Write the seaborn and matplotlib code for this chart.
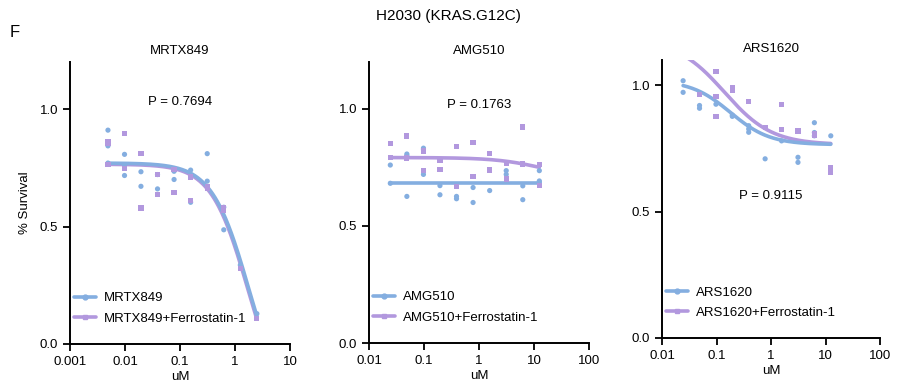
import numpy as np
import pandas as pd
import matplotlib
matplotlib.use("Agg")
import matplotlib.pyplot as plt
from matplotlib.lines import Line2D
import seaborn as sns

sns.set_style("ticks")
plt.rcParams["font.family"] = ["Liberation Sans", "DejaVu Sans"]
plt.rcParams["text.color"] = "black"
plt.rcParams["axes.labelcolor"] = "black"
plt.rcParams["xtick.color"] = "black"
plt.rcParams["ytick.color"] = "black"

BLUE = "#84AEE0"
PURPLE = "#B298DE"

# concentrations (uM), 2-fold dilutions
conc_mrtx = [0.0049, 0.0098, 0.0195, 0.039, 0.078, 0.156, 0.3125, 0.625, 1.25, 2.5]
conc_amg = [0.0244, 0.0488, 0.0977, 0.195, 0.39, 0.78, 1.5625, 3.125, 6.25, 12.5]
conc_ars = [0.0244, 0.0488, 0.0977, 0.195, 0.39, 0.78, 1.5625, 3.125, 6.25, 12.5]

# replicate survival values per concentration (visible points)
mrtx_drug = [[0.91, 0.843, 0.77], [0.807, 0.717, 0.76], [0.733, 0.671], [0.721, 0.66],
             [0.70, 0.735], [0.74, 0.603], [0.81, 0.693], [0.582, 0.486], [0.336], [0.129]]
mrtx_ferro = [[0.862, 0.855, 0.764], [0.896, 0.747], [0.81, 0.579], [0.636, 0.72],
              [0.743, 0.646], [0.711, 0.61], [0.671, 0.664], [0.579, 0.57], [0.321], [0.107]]
amg_drug = [[0.76, 0.682], [0.807, 0.80, 0.626], [0.832, 0.826, 0.72], [0.672, 0.633],
            [0.626, 0.616], [0.664, 0.60], [0.651], [0.736, 0.72], [0.671, 0.612],
            [0.736, 0.692, 0.686]]
amg_ferro = [[0.852, 0.792], [0.884, 0.79], [0.82, 0.736], [0.778, 0.742], [0.84, 0.668],
             [0.855, 0.711], [0.809, 0.739], [0.767, 0.70], [0.922, 0.764], [0.763, 0.672]]
ars_drug = [[1.018, 0.972], [0.92, 0.909], [0.925], [0.877, 0.882], [0.84, 0.827, 0.814],
            [0.709], [0.78], [0.715, 0.695], [0.852, 0.813, 0.80], [0.80]]
ars_ferro = [[], [0.963], [1.053, 0.954, 0.877], [0.99, 0.98], [0.937], [0.833],
             [0.924, 0.826], [0.819], [0.807, 0.80], [0.676, 0.656]]

# fitted 4PL parameters: top, bottom, EC50, hill
fit_mrtx_drug = [0.77, -0.3, 1.78, 1.3]
fit_mrtx_ferro = [0.765, -0.3, 1.72, 1.3]
fit_amg_drug = [0.682, 0.682, 1.0, 1.0]
fit_amg_ferro = [0.792, 0.70, 15.0, 1.0]
fit_ars_drug = [1.02, 0.765, 0.18, 1.2]
fit_ars_ferro = [1.18, 0.765, 0.14, 1.0]

p_values = ["P = 0.7694", "P = 0.1763", "P = 0.9115"]


def to_frame(conc, drug, ferro, names):
    rows = []
    for c, vals in zip(conc, drug):
        for v in vals:
            rows.append((c, v, names[0]))
    for c, vals in zip(conc, ferro):
        for v in vals:
            rows.append((c, v, names[1]))
    return pd.DataFrame(rows, columns=["conc", "surv", "group"])


def four_pl(x, p):
    top, bottom, ec50, hill = p
    return bottom + (top - bottom) / (1 + (x / ec50) ** hill)


panels = [
    dict(name="MRTX849", conc=conc_mrtx, drug=mrtx_drug, ferro=mrtx_ferro,
         fits=(fit_mrtx_drug, fit_mrtx_ferro), xlim=(0.001, 10),
         xticks=[0.001, 0.01, 0.1, 1, 10], xlabels=["0.001", "0.01", "0.1", "1", "10"],
         ylim=(0, 1.2), ptext=(0.1, 1.03),
         rect=[70 / 897, 41 / 385, 220 / 897, 282 / 385]),
    dict(name="AMG510", conc=conc_amg, drug=amg_drug, ferro=amg_ferro,
         fits=(fit_amg_drug, fit_amg_ferro), xlim=(0.01, 100),
         xticks=[0.01, 0.1, 1, 10, 100], xlabels=["0.01", "0.1", "1", "10", "100"],
         ylim=(0, 1.2), ptext=(1.0, 1.015),
         rect=[369 / 897, 42 / 385, 220 / 897, 281 / 385]),
    dict(name="ARS1620", conc=conc_ars, drug=ars_drug, ferro=ars_ferro,
         fits=(fit_ars_drug, fit_ars_ferro), xlim=(0.01, 100),
         xticks=[0.01, 0.1, 1, 10, 100], xlabels=["0.01", "0.1", "1", "10", "100"],
         ylim=(0, 1.1), ptext=(1.0, 0.56),
         rect=[662 / 897, 47 / 385, 218 / 897, 278 / 385]),
]

fig = plt.figure(figsize=(8.97, 3.85), dpi=100)

for i, pn in enumerate(panels):
    ax = fig.add_axes(pn["rect"])
    names = [pn["name"], pn["name"] + "+Ferrostatin-1"]
    df = to_frame(pn["conc"], pn["drug"], pn["ferro"], names)

    # fitted curves
    xs = np.geomspace(min(pn["conc"]), max(pn["conc"]), 200)
    sns.lineplot(x=xs, y=four_pl(xs, pn["fits"][1]), ax=ax, color=PURPLE, lw=2.6,
                 solid_capstyle="round", zorder=2)
    sns.lineplot(x=xs, y=four_pl(xs, pn["fits"][0]), ax=ax, color=BLUE, lw=2.6,
                 solid_capstyle="round", zorder=3)

    sns.scatterplot(data=df, x="conc", y="surv", hue="group", style="group",
                    palette={names[0]: BLUE, names[1]: PURPLE},
                    markers={names[0]: "o", names[1]: "s"}, s=14, linewidth=0,
                    ax=ax, legend=False, zorder=4)

    ax.set_xscale("log")
    ax.set_xlim(*pn["xlim"])
    ax.set_ylim(*pn["ylim"])
    ax.set_xticks(pn["xticks"])
    ax.set_xticklabels(pn["xlabels"])
    ax.xaxis.set_minor_locator(matplotlib.ticker.NullLocator())
    ax.set_yticks([0, 0.5, 1.0])
    ax.set_yticklabels(["0.0", "0.5", "1.0"])
    ax.tick_params(axis="both", labelsize=9.5, width=1.3, length=5, color="black")
    for s in ["left", "bottom"]:
        ax.spines[s].set_linewidth(1.4)
        ax.spines[s].set_color("black")
    sns.despine(ax=ax)
    ax.set_xlabel("uM", fontsize=9.5, labelpad=2)
    ax.set_ylabel("% Survival" if i == 0 else "", fontsize=9.5, labelpad=6)
    ax.set_title(pn["name"], fontsize=9.5, pad=6)
    ax.text(pn["ptext"][0], pn["ptext"][1], p_values[i], ha="center", va="center",
            fontsize=9.5)

    handles = [Line2D([], [], color=BLUE, lw=2.6, marker="o", markersize=3.5),
               Line2D([], [], color=PURPLE, lw=2.6, marker="s", markersize=3.5)]
    ax.legend(handles, names, loc="lower left", bbox_to_anchor=(-0.02, 0.04),
              frameon=False, fontsize=9.5, handlelength=1.7, handletextpad=0.6,
              labelspacing=0.62, borderaxespad=0.2)

fig.text(0.5, 0.958, "H2030 (KRAS.G12C)", ha="center", va="center", fontsize=11)
fig.text(0.011, 0.915, "F", ha="left", va="center", fontsize=12)

fig.savefig("out.png", dpi=100)
